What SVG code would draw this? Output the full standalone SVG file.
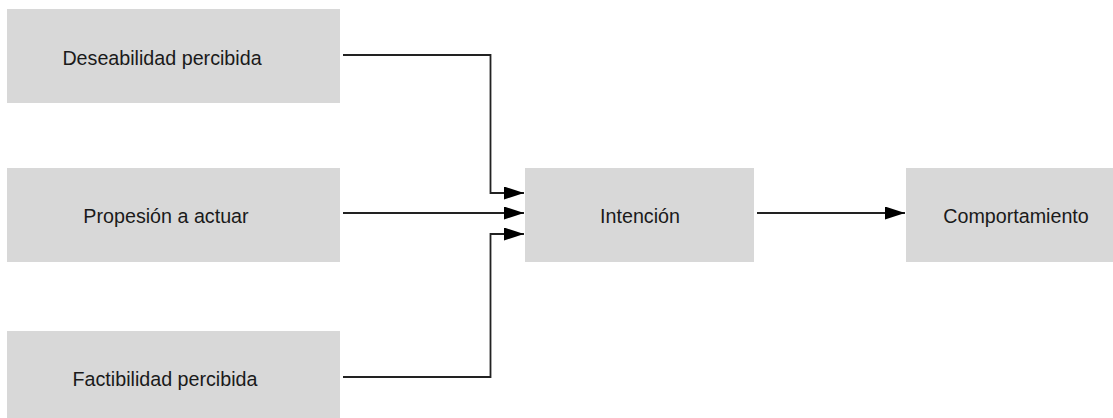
<svg xmlns="http://www.w3.org/2000/svg" width="1113" height="418" viewBox="0 0 1113 418">
<style>
.box{fill:#d8d8d8}
.lbl{font-family:"Liberation Sans",Arial,sans-serif;font-size:19.7px;fill:#1a1a1a;text-anchor:middle}
.conn{fill:none;stroke:#222;stroke-width:1.8}
</style>
<defs>
<marker id="arr" markerUnits="userSpaceOnUse" markerWidth="22" markerHeight="14" refX="20" refY="6.5" orient="auto">
<path d="M0,0 L20,6.5 L0,13 Z" fill="#000"/>
</marker>
</defs>
<rect width="1113" height="418" fill="#fff"/>
<g id="n-deseabilidad">
<rect class="box" x="7" y="9" width="333" height="94"/>
<text class="lbl" x="162" y="65">Deseabilidad percibida</text>
</g>
<g id="n-propension">
<rect class="box" x="7" y="168" width="333" height="94"/>
<text class="lbl" x="166" y="223">Propesión a actuar</text>
</g>
<g id="n-factibilidad">
<rect class="box" x="7" y="331" width="333" height="94"/>
<text class="lbl" x="165" y="386">Factibilidad percibida</text>
</g>
<g id="n-intencion">
<rect class="box" x="525" y="168" width="229" height="94"/>
<text class="lbl" x="640" y="223">Intención</text>
</g>
<g id="n-comportamiento">
<rect class="box" x="906" y="168" width="229" height="94"/>
<text class="lbl" x="1016" y="223">Comportamiento</text>
</g>
<g id="connectors">
<path class="conn" d="M343,55 H490.5 V193 H524" marker-end="url(#arr)"/>
<path class="conn" d="M343,213 H524" marker-end="url(#arr)"/>
<path class="conn" d="M343,377 H490.5 V234 H524" marker-end="url(#arr)"/>
<path class="conn" d="M757,213 H905" marker-end="url(#arr)"/>
</g>
</svg>
